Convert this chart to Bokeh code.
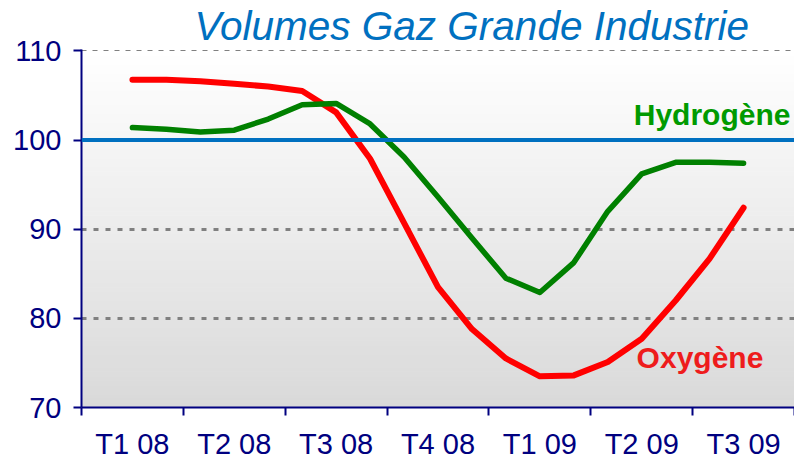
from bokeh.plotting import figure
from bokeh.models import (Range1d, FixedTicker, Grid, Span, Label, ColumnDataSource)
from bokeh.embed import file_html
from bokeh.resources import INLINE

# ---- data ----
quarters = ["T1 08", "T2 08", "T3 08", "T4 08", "T1 09", "T2 09", "T3 09"]
hydrogene = [101.4, 101.2, 100.9, 101.1, 102.35, 103.95, 104.1, 101.8, 98.1, 93.6,
             89.0, 84.5, 82.9, 86.25, 92.0, 96.2, 97.5, 97.5, 97.4]
oxygene = [106.75, 106.75, 106.6, 106.3, 106.0, 105.5, 103.1, 97.9, 90.7, 83.5,
           78.8, 75.5, 73.5, 73.6, 75.1, 77.7, 82.0, 86.7, 92.4]
y_ticks = [70, 80, 90, 100, 110]
reference_level = 100
title_text = "Volumes Gaz Grande Industrie"

NAVY = "#000080"
FONT = "Liberation Sans"

# monthly positions on the quarter scale (each quarter = 1 unit, centre at +0.5)
months_x = [0.5 + i / 3 for i in range(len(oxygene))]

p = figure(width=794, height=462, output_backend="svg", toolbar_location=None,
           x_range=Range1d(0, len(quarters)),
           y_range=Range1d(y_ticks[0], y_ticks[-1] + 0.15),
           min_border_left=81, min_border_right=0, min_border_top=49, min_border_bottom=54)
p.outline_line_color = None
p.background_fill_color = "white"
p.border_fill_color = "white"

# title
p.title.text = title_text
p.title.text_font = FONT
p.title.text_font_size = "40.5px"
p.title.text_font_style = "italic"
p.title.text_color = "#0070C0"
p.title.align = "left"
p.title.offset = 113
p.title.standoff = 1

# gradient background (white at top -> light grey at bottom)
n = 80
y0, y1 = y_ticks[0], y_ticks[-1]
step = (y1 - y0) / n
bottoms, tops, cols = [], [], []
for k in range(n):
    b = y0 + k * step
    t = b + step
    frac = (b + step / 2 - y0) / (y1 - y0)  # 0 bottom, 1 top
    top_c = (255, 255, 255)
    bot_c = (217, 217, 217)
    c = tuple(int(round(bot_c[j] + (top_c[j] - bot_c[j]) * frac)) for j in range(3))
    bottoms.append(b)
    tops.append(t)
    cols.append("#%02x%02x%02x" % c)
bg = ColumnDataSource(dict(bottom=bottoms, top=tops, color=cols))
p.quad(left=0, right=len(quarters), bottom="bottom", top="top", fill_color="color",
       line_color="color", line_width=1, source=bg, level="image")

# grid lines
p.xgrid.visible = False
p.ygrid.ticker = FixedTicker(ticks=[80, 90])
p.ygrid.grid_line_color = "#808080"
p.ygrid.grid_line_width = 3
p.ygrid.grid_line_dash = "5 7"
g110 = Grid(dimension=1, ticker=FixedTicker(ticks=[110]), grid_line_color="#808080",
            grid_line_width=1.2, grid_line_dash="5 6")
p.add_layout(g110)

# series
p.line(months_x, oxygene, line_color="#FF0000", line_width=6, line_join="round", line_cap="round")
p.line(months_x, hydrogene, line_color="#008000", line_width=5.5, line_join="round", line_cap="round")

# reference line at 100
p.add_layout(Span(location=reference_level, dimension="width", line_color="#0070C0", line_width=4))

# axes
xa = p.xaxis[0]
xa.ticker = FixedTicker(ticks=[k + 0.5 for k in range(len(quarters))],
                        minor_ticks=list(range(len(quarters) + 1)))
xa.major_label_overrides = {k + 0.5: q for k, q in enumerate(quarters)}
xa.major_tick_line_color = None
xa.major_tick_out = 0
xa.major_tick_in = 0
xa.minor_tick_out = 8
xa.minor_tick_in = 0
xa.minor_tick_line_color = NAVY
xa.minor_tick_line_width = 2
xa.axis_line_color = NAVY
xa.axis_line_width = 2
xa.major_label_standoff = 12
xa.major_label_text_font = FONT
xa.major_label_text_font_size = "29px"
xa.major_label_text_color = NAVY

ya = p.yaxis[0]
ya.ticker = FixedTicker(ticks=y_ticks)
ya.minor_tick_line_color = None
ya.major_tick_out = 8
ya.major_tick_in = 0
ya.major_tick_line_color = NAVY
ya.major_tick_line_width = 2
ya.axis_line_color = NAVY
ya.axis_line_width = 2
ya.major_label_standoff = 12
ya.major_label_text_font = FONT
ya.major_label_text_font_size = "29px"
ya.major_label_text_color = NAVY

# series labels
p.add_layout(Label(x=6.96, y=102.9, text="Hydrogène", text_align="right",
                   text_baseline="alphabetic", text_font=FONT, text_font_size="30px",
                   text_font_style="bold", text_color="#009A00"))
p.add_layout(Label(x=5.45, y=75.6, text="Oxygène", text_align="left",
                   text_baseline="alphabetic", text_font=FONT, text_font_size="30px",
                   text_font_style="bold", text_color="#EE1C1C"))

open("out.html", "w").write(file_html(p, INLINE))
